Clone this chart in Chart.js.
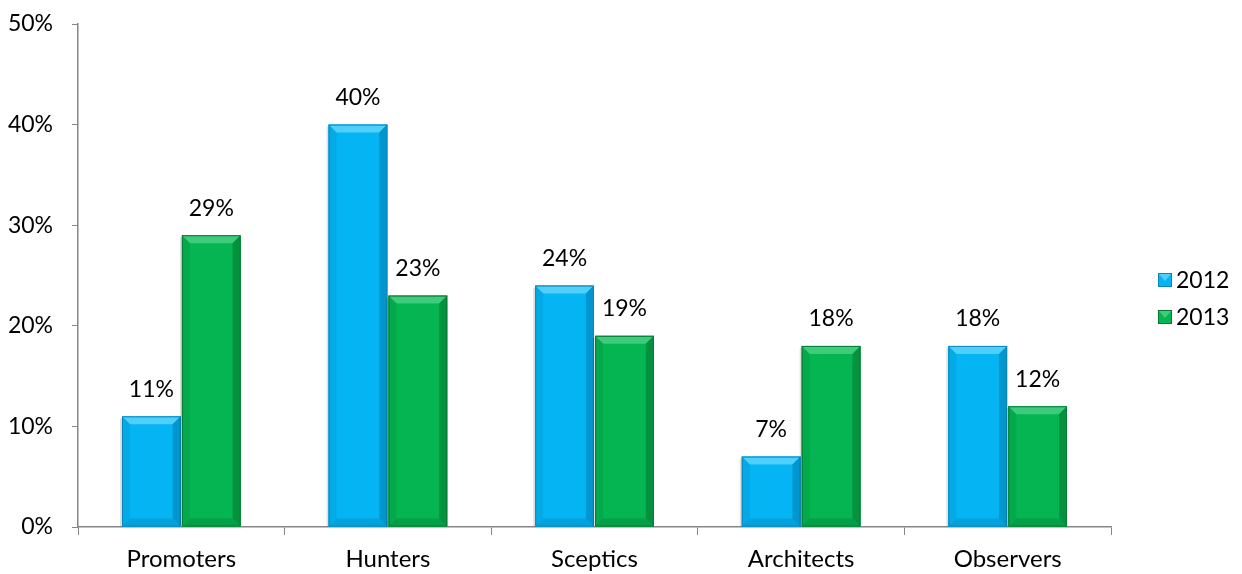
<!DOCTYPE html>
<html>
<head>
<meta charset="utf-8">
<script src="https://cdn.jsdelivr.net/npm/chart.js@4.4.1/dist/chart.umd.min.js"></script>
<style>
  html, body { margin: 0; padding: 0; background: #fff; }
  #wrap { width: 1242px; height: 574px; }
</style>
</head>
<body>
<div id="wrap"><canvas id="segmentChart"></canvas></div>
<script>
const categories = ['Promoters', 'Hunters', 'Sceptics', 'Architects', 'Observers'];
const years = ['2012', '2013'];
const values2012 = [11, 40, 24, 7, 18];
const values2013 = [29, 23, 19, 18, 12];
const yTicks = [0, 10, 20, 30, 40, 50];

const FONT = 'Lato, "Open Sans", sans-serif';
const NUM_SIZE = 23;
const CAT_SIZE = 24;

const palette = [
  { fill: '#05b5f3', light: '#4fcffa', dark: '#0296cf', edge: '#0a86b8' },
  { fill: '#05b552', light: '#3fcb7c', dark: '#04923f', edge: '#087a36' }
];

// bevelled bars, drawn over the plain rectangles
const bevelBars = {
  id: 'bevelBars',
  afterDatasetsDraw(chart) {
    const ctx = chart.ctx;
    chart.data.datasets.forEach((ds, i) => {
      const c = palette[i];
      chart.getDatasetMeta(i).data.forEach(bar => {
        const l = bar.x - bar.width / 2, r = bar.x + bar.width / 2;
        const t = bar.y, btm = bar.base;
        const b = Math.min(8, (btm - t) / 2);
        ctx.save();
        // soft shadow on the left
        ctx.fillStyle = 'rgba(0,0,0,0.12)';
        ctx.fillRect(l - 2, t + 2, 2, btm - t - 2);
        ctx.fillStyle = c.fill;
        ctx.fillRect(l, t, r - l, btm - t);
        // top
        ctx.fillStyle = c.light;
        ctx.beginPath();
        ctx.moveTo(l, t); ctx.lineTo(r, t); ctx.lineTo(r - b, t + b); ctx.lineTo(l + b, t + b);
        ctx.closePath(); ctx.fill();
        // right
        ctx.fillStyle = c.dark;
        ctx.beginPath();
        ctx.moveTo(r, t); ctx.lineTo(r, btm); ctx.lineTo(r - b, btm - b); ctx.lineTo(r - b, t + b);
        ctx.closePath(); ctx.fill();
        // bottom
        ctx.globalAlpha = 0.6;
        ctx.beginPath();
        ctx.moveTo(l, btm); ctx.lineTo(r, btm); ctx.lineTo(r - b, btm - b); ctx.lineTo(l + b, btm - b);
        ctx.closePath(); ctx.fill();
        // left
        ctx.globalAlpha = 0.35;
        ctx.beginPath();
        ctx.moveTo(l, t); ctx.lineTo(l, btm); ctx.lineTo(l + b, btm - b); ctx.lineTo(l + b, t + b);
        ctx.closePath(); ctx.fill();
        ctx.globalAlpha = 1;
        ctx.strokeStyle = c.edge;
        ctx.lineWidth = 1;
        ctx.strokeRect(l + 0.5, t + 0.5, r - l - 1, btm - t - 1);
        ctx.restore();
      });
    });
  }
};

// value labels above each bar
const valueLabels = {
  id: 'valueLabels',
  afterDatasetsDraw(chart) {
    const ctx = chart.ctx;
    ctx.save();
    ctx.font = NUM_SIZE + 'px ' + FONT;
    ctx.fillStyle = '#000';
    ctx.textAlign = 'center';
    ctx.textBaseline = 'middle';
    chart.data.datasets.forEach((ds, i) => {
      chart.getDatasetMeta(i).data.forEach((bar, j) => {
        ctx.fillText(ds.data[j] + '%', bar.x, bar.y - 27);
      });
    });
    ctx.restore();
  }
};

// legend on the right with small bevelled squares
const sideLegend = {
  id: 'sideLegend',
  afterDraw(chart) {
    const ctx = chart.ctx;
    const x = chart.chartArea.right + 47;
    const y0 = 280, step = 37, s = 14;
    ctx.save();
    ctx.font = NUM_SIZE + 'px ' + FONT;
    ctx.textBaseline = 'middle';
    chart.data.datasets.forEach((ds, i) => {
      const c = palette[i];
      const y = y0 + i * step;
      ctx.fillStyle = c.fill;
      ctx.fillRect(x, y - s / 2, s, s);
      ctx.fillStyle = c.light;
      ctx.beginPath();
      ctx.moveTo(x, y - s / 2); ctx.lineTo(x + s, y - s / 2); ctx.lineTo(x + s / 2, y + 1);
      ctx.closePath(); ctx.fill();
      ctx.strokeStyle = c.edge;
      ctx.strokeRect(x + 0.5, y - s / 2 + 0.5, s - 1, s - 1);
      ctx.fillStyle = '#000';
      ctx.fillText(ds.label, x + s + 4, y + 1);
    });
    ctx.restore();
  }
};

new Chart(document.getElementById('segmentChart'), {
  type: 'bar',
  data: {
    labels: categories,
    datasets: [
      { label: years[0], data: values2012, backgroundColor: palette[0].fill },
      { label: years[1], data: values2013, backgroundColor: palette[1].fill }
    ]
  },
  options: {
    responsive: true,
    maintainAspectRatio: false,
    animation: false,
    devicePixelRatio: 1,
    layout: { padding: { top: 24, right: 131, left: 0, bottom: 0 } },
    datasets: { bar: { categoryPercentage: 0.58, barPercentage: 0.98 } },
    plugins: { legend: { display: false }, tooltip: { enabled: false } },
    scales: {
      x: {
        grid: { drawOnChartArea: false, drawTicks: true, tickLength: 8, color: '#868686', offset: true },
        border: { color: '#868686', width: 1.5 },
        ticks: { color: '#000', font: { family: FONT, size: CAT_SIZE }, padding: 10, maxRotation: 0 },
        afterFit(scale) { scale.height = 47; }
      },
      y: {
        min: 0,
        max: 50,
        afterBuildTicks(scale) { scale.ticks = yTicks.map(v => ({ value: v })); },
        grid: { drawOnChartArea: false, drawTicks: true, tickLength: 6, color: '#868686' },
        border: { color: '#868686', width: 1.5 },
        ticks: { color: '#000', font: { family: FONT, size: NUM_SIZE }, padding: 19, callback: v => v + '%' },
        afterFit(scale) {
          scale.width = 78;
          scale.paddingTop = 0;
          scale.paddingBottom = 0;
        }
      }
    }
  },
  plugins: [bevelBars, valueLabels, sideLegend]
});
</script>
</body>
</html>
